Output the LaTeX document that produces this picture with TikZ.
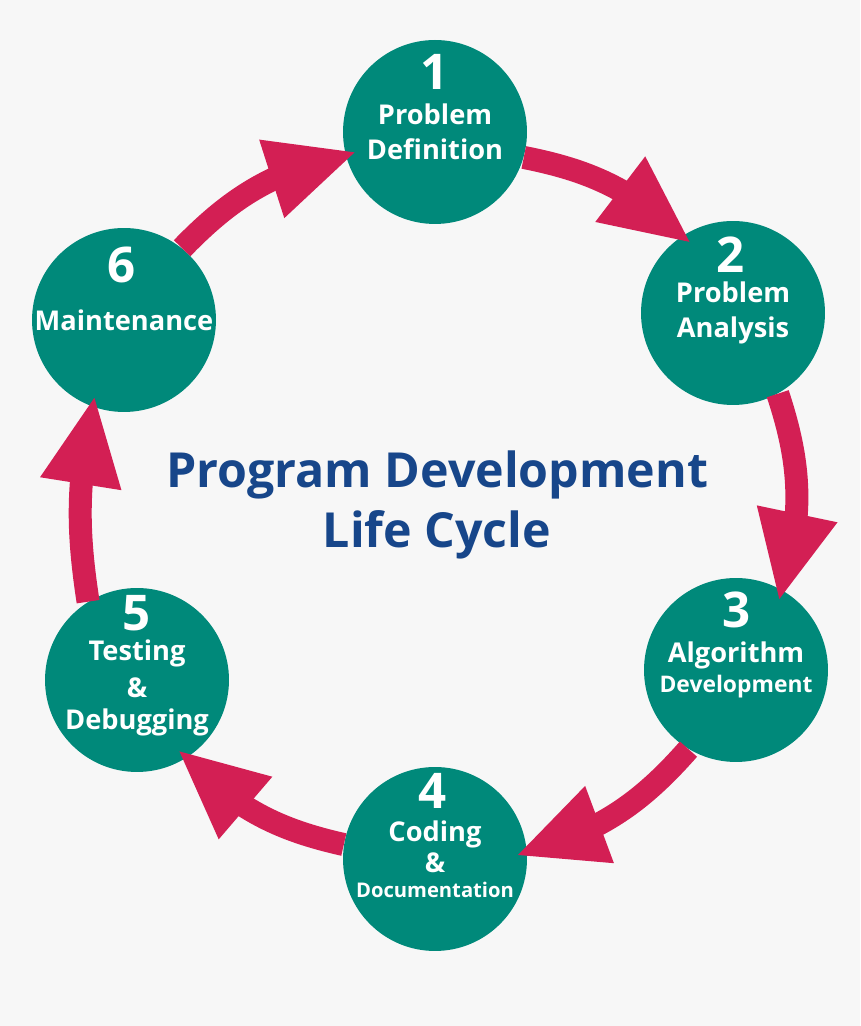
\documentclass[tikz,border=0pt]{standalone}
\usepackage{fontspec}
\setmainfont{Open Sans}
\usetikzlibrary{arrows.meta,bending,positioning}
\definecolor{stagegreen}{HTML}{00897A}
\definecolor{flowred}{HTML}{D31F54}
\definecolor{titleblue}{HTML}{17468A}
\definecolor{paper}{HTML}{F7F7F7}
\tikzset{
  stage/.style={circle,fill=stagegreen,minimum size=3.68cm,inner sep=0pt,text=white,
    align=center,font=\bfseries\fontsize{15.5}{20}\selectfont},
  stagenum/.style={text=white,inner sep=0pt,font=\bfseries\fontsize{28}{28}\selectfont},
  flow/.style={draw=flowred,line width=0.46cm,shorten >=-0.24cm,
    -{Triangle[length=1.8cm,width=1.5cm]}},
  heading/.style={text=titleblue,align=center,font=\bfseries\fontsize{27.5}{34}\selectfont}
}
\begin{document}
\begin{tikzpicture}[x=0.02cm,y=0.02cm]
  \fill[paper] (0,0) rectangle (860,1026);
  % stages of the cycle
  \node[stage] (s1) at (435,894) {Problem\\Definition};
  \node[stage] (s2) at (733,713) {Problem\\Analysis};
  \node[stage] (s3) at (736,356) {Algorithm\\[-3pt]{\fontsize{13}{13}\selectfont Development}};
  \node[stage] (s4) at (435,167) {Coding\\[-2pt]\&\\[-6pt]{\fontsize{11.5}{12}\selectfont Documentation}};
  \node[stage] (s5) at (137,346) {\rule{0pt}{21pt}Testing\\[1pt]\&\\[-2pt]Debugging};
  \node[stage] (s6) at (124,706) {Maintenance};
  % step numbers
  \node[stagenum] (n1) at (435,954) {1};
  \node[stagenum] (n2) at (731,771) {2};
  \node[stagenum] (n3) at (737,416) {3};
  \node[stagenum] (n4) at (433,235) {4};
  \node[stagenum] (n5) at (137,413) {5};
  \node[stagenum] (n6) at (122,761) {6};
  % arrows round the ring
  \foreach \a/\b/\p/\q/\k in {s1/s2/-16/123/15, s2/s3/-61/60/17, s3/s4/239/4/16,
                              s4/s5/171/-58/16, s5/s6/122/-110/10, s6/s1/51/194/16}
    \draw[flow] (\a.\p) to[bend left=\k] (\b.\q);
  \node[heading] (ttl) at (437,521) {Program Development\\Life Cycle};
\end{tikzpicture}
\end{document}
